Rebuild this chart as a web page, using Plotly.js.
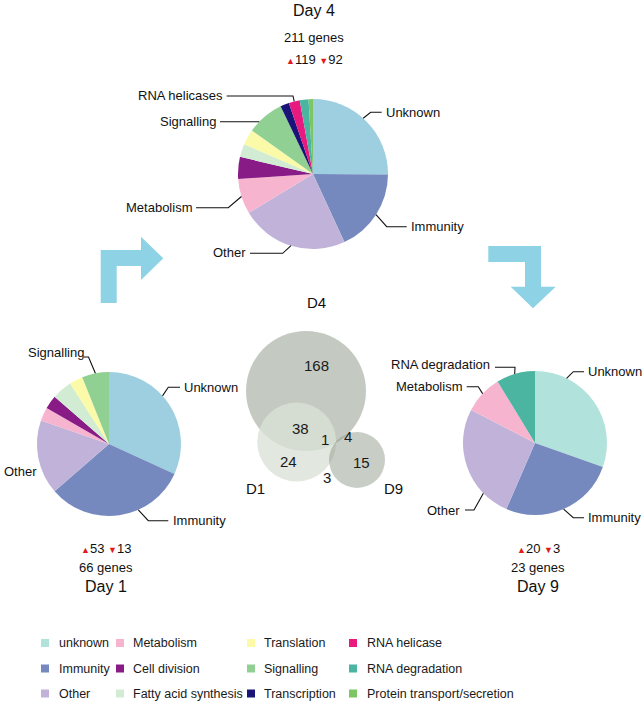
<!DOCTYPE html>
<html><head><meta charset="utf-8">
<script src="https://cdn.plot.ly/plotly-3.0.1.min.js"></script>
<style>html,body{margin:0;padding:0;background:#fff}#chart{width:644px;height:705px}</style>
</head><body><div id="chart"></div><script>
const W = 644, H = 705;
const FONT = 'Liberation Sans, Arial, Helvetica, sans-serif';

// ---------- data ----------
const categories = ['Unknown','Immunity','Other','Metabolism','Cell division','Fatty acid synthesis','Translation','Signalling','Transcription','RNA helicase','RNA degradation','Protein transport/secretion'];
const legendLabels = ['unknown','Immunity','Other','Metabolism','Cell division','Fatty acid synthesis','Translation','Signalling','Transcription','RNA helicase','RNA degradation','Protein transport/secretion'];
const categoryColors = ['#b2e2dc','#7689bf','#c0b2d8','#f7b4cf','#891b86','#d2ecd3','#fbfaa8','#91d093','#1b1478','#e8197f','#4bb5a2','#7cc663'];
const day1Counts = [21,21,11,2,2,3,2,4,0,0,0,0];
const day4Counts = [53,38,49,16,10,6,7,17,4,5,4,2];
const day9Counts = [7,6,6,2,0,0,0,0,0,0,2,0];
const dayNames = ['Day 1','Day 4','Day 9'];
const geneTotals = [66,211,23];
const upCounts = [53,119,20];
const downCounts = [13,92,3];
const vennSets = ['D4','D1','D9'];
const vennRegionNames = ['D4 only','D4&D1','D4&D1&D9','D4&D9','D1 only','D1&D9','D9 only'];
const vennRegionCounts = [168,38,1,4,24,3,15];

// ---------- styling / layout ----------
const px = x => x / W, py = y => 1 - y / H;
const pies = [
  {counts: day1Counts, cx:109, cy:444, r:72, unknownColor:'#9dcfe0', textX:106, titleY:586, genesY:567, udY:548,
   labels:[
     {cat:7, text:'Signalling', angle:null, pts:[[88.5,357],[84,357]], tx:86, ty:353, anchor:'right'},
     {cat:0, text:'Unknown', angle:48, pts:[[168.3,387.3],[180,387.3]], tx:181.5, ty:387.3, anchor:'left'},
     {cat:1, text:'Immunity', angle:156, pts:[[148.3,520.7],[168.3,520.7]], tx:171, ty:520.7, anchor:'left'},
     {cat:2, text:'Other', angle:null, pts:null, tx:1.5, ty:471.7, anchor:'left'}
   ]},
  {counts: day4Counts, cx:313, cy:174, r:75, unknownColor:'#9dcfe0', textX:314, titleY:10, genesY:38, udY:59,
   labels:[
     {cat:0, text:'Unknown', angle:42, pts:[[370.7,112.3],[381.7,112.3]], tx:384, ty:112, anchor:'left'},
     {cat:1, text:'Immunity', angle:null, pts:[[386.7,226.7],[406.7,226.7]], tx:409, ty:226.7, anchor:'left'},
     {cat:2, text:'Other', angle:null, pts:[[282.7,253.3],[250,253.3]], tx:248, ty:253, anchor:'right'},
     {cat:3, text:'Metabolism', angle:null, pts:[[228.3,207.7],[196,207.7]], tx:194, ty:207.7, anchor:'right'},
     {cat:7, text:'Signalling', angle:314.2, pts:[[220,121.7]], tx:218, ty:121.7, anchor:'right'},
     {cat:9, text:'RNA helicases', angle:null, pts:[[293,96],[226.7,96]], tx:224.5, ty:96, anchor:'right'}
   ]},
  {counts: day9Counts, cx:535, cy:443, r:72, unknownColor:'#b2e2dc', textX:538, titleY:586, genesY:567, udY:548,
   labels:[
     {cat:0, text:'Unknown', angle:26, pts:[[573.3,371.7],[584,371.7]], tx:586, ty:371, anchor:'left'},
     {cat:1, text:'Immunity', angle:156.6, pts:[[573.3,517.7],[584,517.7]], tx:586, ty:517.7, anchor:'left'},
     {cat:2, text:'Other', angle:225.8, pts:[[474,510],[465,510]], tx:462, ty:510, anchor:'right'},
     {cat:3, text:'Metabolism', angle:313.3, pts:[[478.3,386.7],[466.7,386.7]], tx:464, ty:386, anchor:'right'},
     {cat:10, text:'RNA degradation', angle:343.6, pts:[[515,367.3],[495,367.3]], tx:492, ty:364, anchor:'right'}
   ]}
];
const vennCircles = [
  {cx:306, cy:391, r:60, fill:'rgb(196,202,193)', lx:316.7, ly:302.7},
  {cx:296.7, cy:442, r:39.5, fill:'rgba(218,226,214,0.78)', lx:256, ly:488.3},
  {cx:357, cy:460, r:28, fill:'rgba(140,150,136,0.48)', lx:393.3, ly:488.3}
];
const vennRegionPos = [[316.7,365],[300,428.3],[325,439.3],[347.7,436.7],[288.3,461.7],[327.3,477.3],[361.7,462.7]];
const arrowColor = '#8dd3e5';
const arrows = [
  [[100.7,303],[100.7,250],[141,250],[141,236.7],[163.3,258.3],[141,280],[141,266],[116.7,266],[116.7,303]],
  [[488.3,246],[541,246],[541,286.7],[555.7,286.7],[533,308.3],[510.7,286.7],[525,286.7],[525,262],[488.3,262]]
];
const legendCols = [{sq:45, tx:57}, {sq:120, tx:131}, {sq:251, tx:262}, {sq:353, tx:364.5}];
const legendRows = [643, 668.5, 693.5];

// ---------- build ----------
const traces = [];
const shapes = [];
const annotations = [];
const pathOf = pts => pts.map((p,i)=>(i?'L':'M')+px(p[0]).toFixed(5)+','+py(p[1]).toFixed(5)).join(' ');

pies.forEach((p, k) => {
  const colors = categoryColors.slice(); colors[0] = p.unknownColor;
  traces.push({
    type:'pie', labels: categories, values: p.counts, sort:false, direction:'clockwise', rotation:0,
    marker:{colors: colors, line:{width:0}}, textinfo:'none', hoverinfo:'label+value', showlegend:false,
    domain:{x:[px(p.cx-p.r), px(p.cx+p.r)], y:[py(p.cy+p.r), py(p.cy-p.r)]}
  });
  const total = p.counts.reduce((a,b)=>a+b,0);
  p.labels.forEach(l => {
    let ang = l.angle;
    if (ang === null) {
      const before = p.counts.slice(0, l.cat).reduce((a,b)=>a+b,0);
      ang = (before + p.counts[l.cat]/2) / total * 360;
    }
    const a = ang * Math.PI/180;
    const start = [p.cx + p.r*Math.sin(a), p.cy - p.r*Math.cos(a)];
    if (l.pts) shapes.push({type:'path', xref:'paper', yref:'paper', path: pathOf([start].concat(l.pts)), line:{color:'#111', width:1.1}, layer:'above'});
    annotations.push({xref:'paper', yref:'paper', x:px(l.tx), y:py(l.ty), xanchor:l.anchor, yanchor:'middle', text:l.text, showarrow:false, font:{family:FONT, size:13, color:'#111'}});
  });
  const tri = s => '<span style="color:#e31a1c;font-size:9px">' + s + '</span>';
  annotations.push({xref:'paper', yref:'paper', x:px(p.textX), y:py(p.titleY), xanchor:'center', yanchor:'middle', text:dayNames[k], showarrow:false, font:{family:FONT, size:16, color:'#111'}});
  annotations.push({xref:'paper', yref:'paper', x:px(p.textX), y:py(p.genesY), xanchor:'center', yanchor:'middle', text:geneTotals[k] + ' genes', showarrow:false, font:{family:FONT, size:13, color:'#111'}});
  annotations.push({xref:'paper', yref:'paper', x:px(p.textX), y:py(p.udY), xanchor:'center', yanchor:'middle', text:tri('▲') + upCounts[k] + ' ' + tri('▼') + downCounts[k], showarrow:false, font:{family:FONT, size:13, color:'#111'}});
});

// Venn
vennCircles.forEach((c, i) => {
  shapes.push({type:'circle', xref:'paper', yref:'paper', x0:px(c.cx-c.r), x1:px(c.cx+c.r), y0:py(c.cy+c.r), y1:py(c.cy-c.r), fillcolor:c.fill, line:{width:0}, layer:'below'});
  annotations.push({xref:'paper', yref:'paper', x:px(c.lx), y:py(c.ly), xanchor:'center', yanchor:'middle', text:vennSets[i], showarrow:false, font:{family:FONT, size:15, color:'#111'}});
});
vennRegionCounts.forEach((v, i) => {
  annotations.push({xref:'paper', yref:'paper', x:px(vennRegionPos[i][0]), y:py(vennRegionPos[i][1]), xanchor:'center', yanchor:'middle', text:String(v), showarrow:false, font:{family:FONT, size:15, color:'#1a1a1a'}});
});

// Arrows
arrows.forEach(a => shapes.push({type:'path', xref:'paper', yref:'paper', path: pathOf(a) + ' Z', fillcolor:arrowColor, line:{width:0}, layer:'below'}));

// Legend
legendLabels.forEach((lab, i) => {
  const col = legendCols[Math.floor(i/3)], row = legendRows[i%3];
  shapes.push({type:'rect', xref:'paper', yref:'paper', x0:px(col.sq-4), x1:px(col.sq+4), y0:py(row+4), y1:py(row-4), fillcolor:categoryColors[i], line:{width:0}});
  annotations.push({xref:'paper', yref:'paper', x:px(col.tx), y:py(row), xanchor:'left', yanchor:'middle', text:lab, showarrow:false, font:{family:FONT, size:12.5, color:'#1a1a1a'}});
});

Plotly.newPlot('chart', traces, {
  width:W, height:H, margin:{l:0,r:0,t:0,b:0}, paper_bgcolor:'#fff', plot_bgcolor:'#fff',
  showlegend:false, shapes:shapes, annotations:annotations
}, {staticPlot:true, displayModeBar:false});
</script></body></html>
